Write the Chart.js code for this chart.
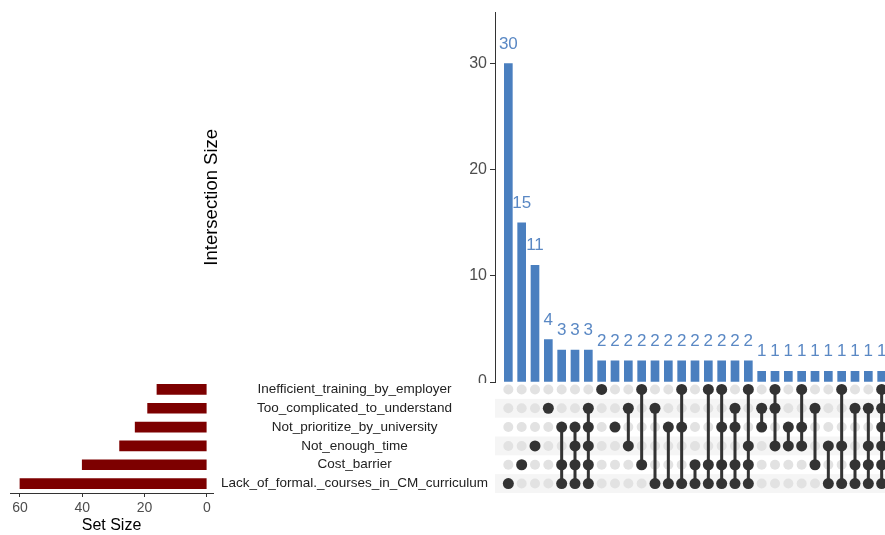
<!DOCTYPE html>
<html>
<head>
<meta charset="utf-8">
<script src="https://cdn.jsdelivr.net/npm/chart.js@4.4.1/dist/chart.umd.min.js"></script>
<style>
  html, body { margin: 0; padding: 0; background: #fff; }
  body { width: 885px; height: 535px; overflow: hidden; position: relative; }
  #topWrap { position: absolute; left: 0; top: 0; width: 885px; height: 383px; overflow: hidden; }
  #topChart { position: absolute; left: 0; top: 0; }
  #matrixChart { position: absolute; left: 0; top: 380px; }
  #setChart { position: absolute; left: 0; top: 370px; }
</style>
</head>
<body>
<div id="topWrap"><canvas id="topChart" width="900" height="395"></canvas></div>
<canvas id="setChart" width="495" height="165"></canvas>
<canvas id="matrixChart" width="900" height="113"></canvas>
<script>
// sets, top to bottom as in the matrix
var setNames = [
    "Inefficient_training_by_employer",
    "Too_complicated_to_understand",
    "Not_prioritize_by_university",
    "Not_enough_time",
    "Cost_barrier",
    "Lack_of_formal._courses_in_CM_curriculum"
];
var setSizes = [16, 19, 23, 28, 40, 60];
var setSizeTicks = [0, 20, 40, 60];

// intersections, left to right
var counts = [30, 15, 11, 4, 3, 3, 3,
    2, 2, 2, 2, 2, 2, 2, 2, 2, 2, 2, 2,
    1, 1, 1, 1, 1, 1, 1, 1, 1, 1];
var members = [
    [5], [4], [3], [1], [2, 4, 5], [2, 3, 4, 5], [1, 2, 3, 4, 5],
    [0], [2], [1, 3], [0, 4], [1, 5], [2, 5], [0, 2, 5], [4, 5], [0, 4, 5],
    [0, 2, 4, 5], [1, 2, 4, 5], [0, 3, 4, 5],
    [1, 2], [0, 1, 3], [2, 3], [0, 2, 3], [1, 4], [3, 5], [0, 3, 5],
    [1, 4, 5], [1, 3, 4, 5], [0, 1, 2, 3, 4, 5]
];
var countTicks = [0, 10, 20, 30];

Chart.defaults.font.family = '"Liberation Sans", Arial, sans-serif';
Chart.defaults.animation = false;

var BLUE = "#4a7fbf";
var DARK = "#333333";

// numbers above the intersection bars
const barLabels = {
    id: "barLabels",
    afterDatasetsDraw(chart) {
        const ctx = chart.ctx;
        const meta = chart.getDatasetMeta(0);
        ctx.save();
        ctx.font = '17px "Liberation Sans", Arial, sans-serif';
        ctx.fillStyle = "#5a88c4";
        ctx.textAlign = "center";
        ctx.textBaseline = "alphabetic";
        meta.data.forEach((bar, i) => {
            ctx.fillText(String(counts[i]), bar.x, bar.y - 15);
        });
        ctx.restore();
    }
};

let topChart = new Chart(document.getElementById("topChart"), {
    type: "bar",
    data: {
        datasets: [{
            data: counts.map((c, i) => ({ x: i + 1, y: c })),
            backgroundColor: BLUE,
            borderWidth: 0,
            barThickness: 8
        }]
    },
    options: {
        responsive: false,
        layout: { autoPadding: false, padding: { top: 10, bottom: 13, right: 5, left: 0 } },
        plugins: { legend: { display: false }, tooltip: { enabled: false } },
        scales: {
            x: { type: "linear", min: 0, max: 30, offset: false, grid: { offset: false }, display: false },
            y: {
                min: 0, max: 34.8,
                afterBuildTicks: axis => { axis.ticks = countTicks.map(v => ({ value: v })); },
                afterFit: axis => { axis.width = 495; },
                ticks: { font: { size: 16 }, color: "#4d4d4d", padding: 3 },
                grid: { drawOnChartArea: false, tickLength: 5, color: DARK },
                border: { color: DARK },
                title: {
                    display: true, text: "Intersection Size",
                    font: { size: 18.5 }, color: "#000",
                    padding: { top: 201, bottom: 0 }
                }
            }
        }
    },
    plugins: [barLabels]
});

// alternate row shading behind the matrix
const rowShade = {
    id: "rowShade",
    beforeDatasetsDraw(chart) {
        const ctx = chart.ctx;
        const area = chart.chartArea;
        const y = chart.scales.y;
        ctx.save();
        ctx.fillStyle = "#f5f5f5";
        setNames.forEach((n, r) => {
            if (r % 2 === 1) {
                const y0 = y.getPixelForValue(r + 0.5);
                const y1 = y.getPixelForValue(r + 1.5);
                ctx.fillRect(area.left, y0, area.right - area.left, y1 - y0);
            }
        });
        ctx.restore();
    }
};

let greyDots = [];
counts.forEach((c, i) => {
    setNames.forEach((n, r) => greyDots.push({ x: i + 1, y: r + 1 }));
});

let matrixSets = [{
    data: greyDots,
    pointRadius: 5,
    pointBackgroundColor: "#e2e2e2",
    pointBorderWidth: 0,
    showLine: false,
    order: 2
}];
members.forEach((m, i) => {
    matrixSets.push({
        data: m.map(r => ({ x: i + 1, y: r + 1 })),
        showLine: true,
        borderColor: DARK,
        borderWidth: 3,
        pointRadius: 5.5,
        pointBackgroundColor: DARK,
        pointBorderWidth: 0,
        order: 1
    });
});

let matrixChart = new Chart(document.getElementById("matrixChart"), {
    type: "scatter",
    data: { datasets: matrixSets },
    options: {
        responsive: false,
        layout: { autoPadding: false, padding: { left: 495, right: 5, top: 0, bottom: 0 } },
        plugins: { legend: { display: false }, tooltip: { enabled: false } },
        scales: {
            x: { type: "linear", min: 0, max: 30, display: false },
            y: { type: "linear", min: 0.5, max: 6.5, reverse: true, display: false }
        }
    },
    plugins: [rowShade]
});

let setChart = new Chart(document.getElementById("setChart"), {
    type: "bar",
    data: {
        labels: setNames,
        datasets: [{
            data: setSizes,
            backgroundColor: "#7d0000",
            borderWidth: 0,
            barThickness: 10
        }]
    },
    options: {
        responsive: false,
        indexAxis: "y",
        layout: { padding: { left: 10, top: 10, right: 2, bottom: 0 } },
        plugins: { legend: { display: false }, tooltip: { enabled: false } },
        scales: {
            x: {
                type: "linear", reverse: true, min: -2, max: 63.2,
                afterBuildTicks: axis => { axis.ticks = setSizeTicks.map(v => ({ value: v })); },
                afterFit: axis => { axis.height = 42; },
                ticks: { font: { size: 14 }, color: "#4d4d4d", padding: 3, maxRotation: 0 },
                grid: { drawOnChartArea: false, tickLength: 4, color: DARK },
                border: { color: DARK },
                title: {
                    display: true, text: "Set Size",
                    font: { size: 16 }, color: "#000",
                    padding: { top: 2, bottom: 0 }
                }
            },
            y: {
                position: "right",
                afterFit: axis => { axis.width = 280; },
                grid: { display: false },
                border: { display: false },
                ticks: { font: { size: 13.5 }, color: "#222", crossAlign: "center", padding: 0, autoSkip: false }
            }
        }
    }
});
</script>
</body>
</html>
